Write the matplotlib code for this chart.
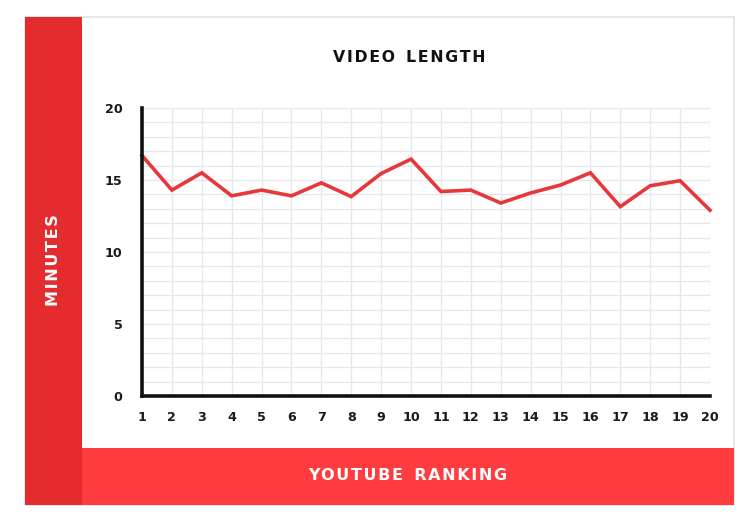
import numpy as np
import matplotlib.pyplot as plt
from matplotlib.patches import Rectangle

# YouTube ranking vs. average video length (minutes)
ranking = list(range(1, 21))
minutes = [16.7, 14.3, 15.5, 13.9, 14.3, 13.9, 14.8, 13.85, 15.45, 16.45,
           14.2, 14.3, 13.4, 14.1, 14.65, 15.5, 13.15, 14.6, 14.95, 12.9]
y_ticks = [0, 5, 10, 15, 20]

W, H = 756, 520
fig = plt.figure(figsize=(W / 100, H / 100), dpi=100)
fig.patch.set_facecolor('white')


def fx(px):
    return px / W


def fy(py):
    return 1 - py / H


def spaced(s):
    # fake letter spacing with hair spaces
    return ' '.join('\u200a'.join(w) for w in s.split(' '))


# card outline
fig.add_artist(Rectangle((fx(25), fy(505)), fx(734) - fx(25), fy(17) - fy(505),
                         facecolor='white', edgecolor='#e4e4e4', lw=1.2,
                         transform=fig.transFigure, zorder=0))
# bottom band and left band
fig.add_artist(Rectangle((fx(82), fy(505)), fx(734) - fx(82), fy(448) - fy(505),
                         facecolor='#ff3d40', edgecolor='none',
                         transform=fig.transFigure, zorder=1))
fig.add_artist(Rectangle((fx(25), fy(505)), fx(82) - fx(25), fy(17) - fy(505),
                         facecolor='#e42c2f', edgecolor='none',
                         transform=fig.transFigure, zorder=1))

ax = fig.add_axes([fx(142), fy(396), fx(710) - fx(142), fy(108) - fy(396)])
ax.set_facecolor('none')
ax.plot(ranking, minutes, color='#e8373b', lw=2.6, solid_joinstyle='miter',
        clip_on=False, zorder=3)

ax.set_xticks(ranking)
ax.set_yticks(y_ticks)
ax.set_xticks(np.arange(1, 21, 1), minor=True)
ax.set_yticks(np.arange(0, 21, 1), minor=True)
ax.set_xlim(1, 20)
ax.set_ylim(0, 20)
ax.grid(which='both', color='#e6e6ee', lw=0.9, zorder=0)
ax.set_axisbelow(True)

for side in ['top', 'right']:
    ax.spines[side].set_visible(False)
for side in ['left', 'bottom']:
    ax.spines[side].set_color('#111111')
    ax.spines[side].set_linewidth(2.6)
    ax.spines[side].set_zorder(4)

ax.tick_params(which='both', length=0)
ax.tick_params(axis='y', pad=14)
ax.tick_params(axis='x', pad=11)
for lbl in ax.get_xticklabels() + ax.get_yticklabels():
    lbl.set_fontsize(9.2)
    lbl.set_fontweight('bold')
    lbl.set_color('#1a1a1a')

fig.text(fx(409), fy(58), spaced('VIDEO  LENGTH'),
         ha='center', va='center', fontsize=11.3, fontweight='bold',
         color='#111111')
fig.text(fx(408), fy(476), spaced('YOUTUBE  RANKING'), ha='center', va='center',
         fontsize=11.5, fontweight='bold', color='white')
fig.text(fx(54), fy(260), spaced('MINUTES'), ha='center', va='center', rotation=90,
         fontsize=11.5, fontweight='bold', color='white')

fig.savefig('out.png', dpi=100, facecolor='white')
